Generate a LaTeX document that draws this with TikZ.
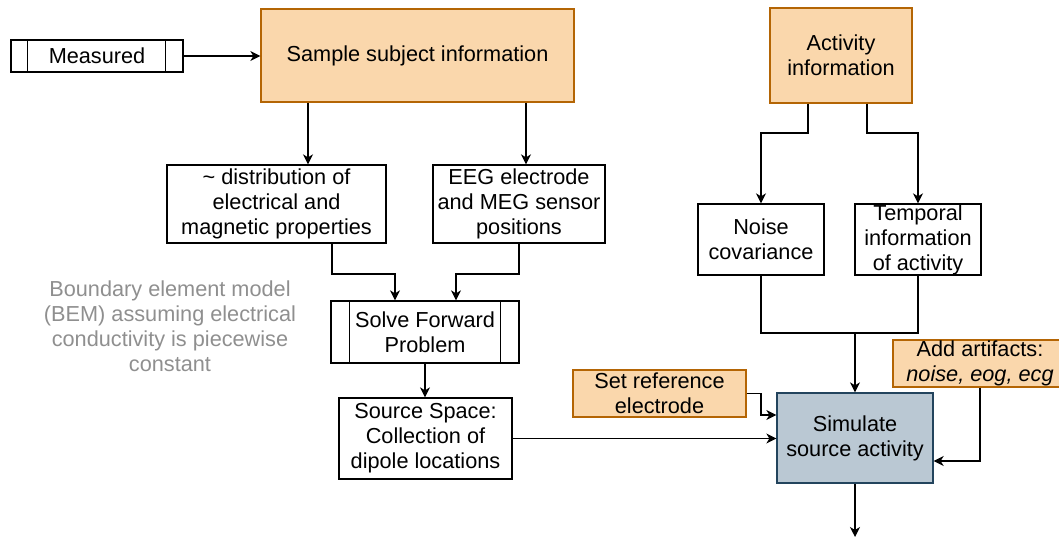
\documentclass[tikz,border=0pt]{standalone}
\usepackage{fontspec}
\setmainfont{Liberation Sans}
\usetikzlibrary{arrows.meta}
\definecolor{ofill}{HTML}{FAD7AC}
\definecolor{odraw}{HTML}{B46504}
\definecolor{bfill}{HTML}{BAC8D3}
\definecolor{bdraw}{HTML}{23445D}
\definecolor{note}{HTML}{8F8F8F}
\begin{document}
\begin{tikzpicture}[x=1pt,y=-1pt,
  font=\fontsize{21.7}{25}\selectfont,
  every node/.style={inner sep=0pt, align=center},
  box/.style={draw=black, line width=1.3pt, fill=white, rectangle},
  obox/.style={draw=odraw, line width=1.3pt, fill=ofill, rectangle},
  bbox/.style={draw=bdraw, line width=1.3pt, fill=bfill, rectangle},
  conn/.style={line width=1.3pt},
  arr/.style={line width=1.3pt, -{Stealth[length=10pt,width=10pt,inset=3pt]}}]
\useasboundingbox (0,0) rectangle (1059,537);

% nodes
\node[box, minimum width=172pt, minimum height=32pt] (meas) at (97,56) {Measured};
\node[obox, minimum width=313pt, minimum height=93pt] (sample) at (417.5,55.5) {Sample subject information};
\node[box, minimum width=219pt, minimum height=78pt] (dist) at (276.5,204) {\textasciitilde{} distribution of\\electrical and\\magnetic properties};
\node[box, minimum width=172pt, minimum height=78pt] (eeg) at (519,204) {EEG electrode\\and MEG sensor\\positions};
\node[box, minimum width=188pt, minimum height=62pt] (solve) at (425,332) {Solve Forward\\Problem};
\node[box, minimum width=173pt, minimum height=81pt] (src) at (425.5,438.5) {Source Space:\\Collection of\\dipole locations};
\node[bbox, minimum width=156pt, minimum height=90pt] (sim) at (855,438) {Simulate\\source activity};
\node[obox, minimum width=173pt, minimum height=47pt] (ref) at (659.5,393.5) {Set reference\\electrode};
\node[obox, minimum width=174pt, minimum height=47pt] (art) at (980,363.5) {Add artifacts:\\\textit{noise, eog, ecg}};
\node[obox, minimum width=142pt, minimum height=95pt] (act) at (841,55.5) {Activity\\information};
\node[box, minimum width=126pt, minimum height=71pt] (noise) at (761,239.5) {Noise\\covariance};
\node[box, minimum width=126pt, minimum height=71pt] (temp) at (918,239.5) {Temporal\\information\\of activity};
\node[text=note] (bem) at (170,326) {Boundary element model\\(BEM) assuming electrical\\conductivity is piecewise\\constant};
\coordinate (out) at (855,537);

% inner lines of subprocess boxes
\draw[conn] ([xshift=17pt]meas.north west) -- ([xshift=17pt]meas.south west);
\draw[conn] ([xshift=-18pt]meas.north east) -- ([xshift=-18pt]meas.south east);
\draw[conn] ([xshift=19pt]solve.north west) -- ([xshift=19pt]solve.south west);
\draw[conn] ([xshift=-19pt]solve.north east) -- ([xshift=-19pt]solve.south east);

% connectors
\draw[arr] (meas.east) -- (sample.west |- meas.east);
\draw[arr] (sample.south -| 308,0) -- (dist.north -| 308,0);
\draw[arr] (sample.south -| 526,0) -- (eeg.north -| 526,0);
\draw[arr] (dist.south -| 332,0) -- (332,274) -- (395,274) -- (solve.north -| 395,0);
\draw[arr] (eeg.south -| 519,0) -- (519,274) -- (456,274) -- (solve.north -| 456,0);
\draw[arr] (solve.south) -- (src.north -| solve.south);
\draw[arr] (src.east) -- (sim.west |- src.east);
\draw[arr] (act.south -| 808,0) -- (808,133) -- (761,133) -- (noise.north);
\draw[arr] (act.south -| 867,0) -- (867,133) -- (918,133) -- (temp.north);
\draw[conn] (noise.south) -- (761,333) -- (855,333);
\draw[conn] (temp.south) -- (918,333) -- (855,333);
\draw[arr] (855,333) -- (sim.north);
\draw[arr] (ref.east) -- (761,393.5) -- (761,415) -- (sim.west |- 0,415);
\draw[arr] (art.south) -- (980,461) -- (sim.east |- 0,461);
\draw[arr] (sim.south) -- (out);
\end{tikzpicture}
\end{document}
